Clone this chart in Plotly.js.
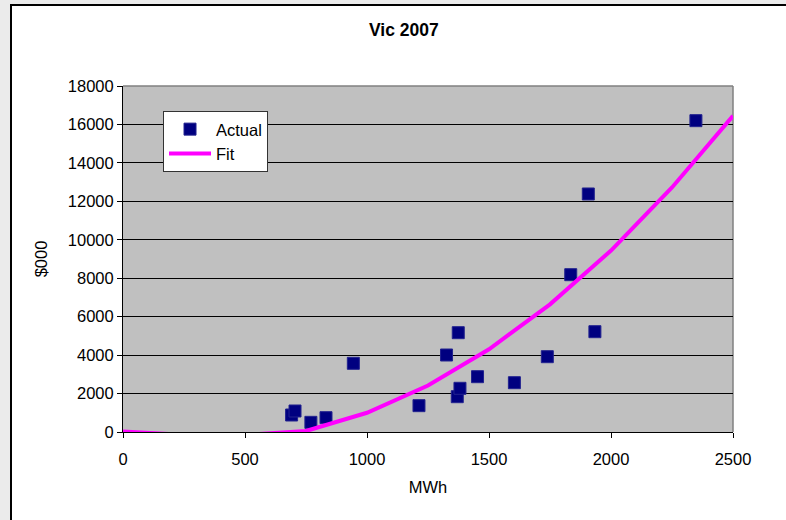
<!DOCTYPE html>
<html>
<head>
<meta charset="utf-8">
<script src="https://cdn.plot.ly/plotly-3.0.1.min.js"></script>
<style>
html,body{margin:0;padding:0;background:#ebebeb;overflow:hidden;}
#wrap{position:absolute;left:10px;top:4px;width:776px;height:516px;background:#fff;border-left:2px solid #000;border-top:2px solid #000;}
#chart{width:776px;height:516px;}
</style>
</head>
<body>
<div id="wrap"><div id="chart"></div></div>
<script>
// Actual observations
var actualMWh = [691, 705, 770, 832, 944, 1213, 1326, 1374, 1370, 1381, 1453, 1604, 1739, 1835, 1907, 1934, 2348];
var actualCost = [884, 1093, 503, 744, 3574, 1370, 4006, 5166, 1837, 2273, 2877, 2565, 3918, 8184, 12383, 5218, 16197];
// Fitted curve points
var fitMWh = [0, 250, 500, 750, 1000, 1250, 1500, 1750, 2000, 2250, 2500];
var fitCost = [30, -150, -150, 50, 1000, 2420, 4300, 6640, 9440, 12720, 16450];
var xTicks = [0, 500, 1000, 1500, 2000, 2500];
var yTicks = [0, 2000, 4000, 6000, 8000, 10000, 12000, 14000, 16000, 18000];

var fam = 'Liberation Sans, Arial, sans-serif';
var fnt = {family: fam, size: 16.5, color: '#000'};

var traces = [
  {
    x: actualMWh, y: actualCost, type: 'scatter', mode: 'markers', name: 'Actual',
    marker: {symbol: 'square', size: 12, color: '#000080', line: {color: '#22228f', width: 1}}
  },
  {
    x: fitMWh, y: fitCost, type: 'scatter', mode: 'lines', name: 'Fit',
    line: {color: '#ff00ff', width: 4}
  }
];

var layout = {
  width: 776, height: 516,
  margin: {l: 111, r: 55, t: 80, b: 90, pad: 0},
  paper_bgcolor: '#ffffff',
  plot_bgcolor: '#c0c0c0',
  font: fnt,
  title: {text: '<b>Vic 2007</b>', font: {family: fam, size: 17.5, color: '#000'}, x: 0.505, xanchor: 'center', y: 1 - 24/516, yanchor: 'middle'},
  showlegend: true,
  legend: {
    x: 0.0656, y: 0.928, xanchor: 'left', yanchor: 'top',
    bgcolor: '#ffffff', bordercolor: '#333333', borderwidth: 1,
    font: {family: fam, size: 16.5, color: '#000'}, tracegroupgap: 0, itemwidth: 42
  },
  xaxis: {
    range: [0, 2500], tickvals: xTicks, ticktext: xTicks.map(String),
    showgrid: false, zeroline: false,
    showline: true, linecolor: '#000', linewidth: 1,
    ticks: 'outside', ticklen: 5, tickcolor: '#000', tickwidth: 1,
    tickfont: fnt, ticklabelstandoff: 7,
    title: {text: 'MWh', font: fnt, standoff: 14}
  },
  yaxis: {
    range: [0, 18000], tickvals: yTicks, ticktext: yTicks.map(String),
    showgrid: true, gridcolor: '#000', gridwidth: 1, zeroline: false,
    showline: true, linecolor: '#000', linewidth: 1,
    ticks: 'outside', ticklen: 5, tickcolor: '#000', tickwidth: 1,
    tickfont: fnt, ticklabelstandoff: 0,
    title: {text: '$000', font: fnt, standoff: 16}
  },
  shapes: [
    {type: 'line', xref: 'paper', yref: 'paper', x0: 0, x1: 1, y0: 1, y1: 1, line: {color: '#808080', width: 1.5}, layer: 'below'},
    {type: 'line', xref: 'paper', yref: 'paper', x0: 1, x1: 1, y0: 0, y1: 1, line: {color: '#808080', width: 1.5}, layer: 'below'}
  ]
};

Plotly.newPlot('chart', traces, layout, {displayModeBar: false, staticPlot: true});
</script>
</body>
</html>
